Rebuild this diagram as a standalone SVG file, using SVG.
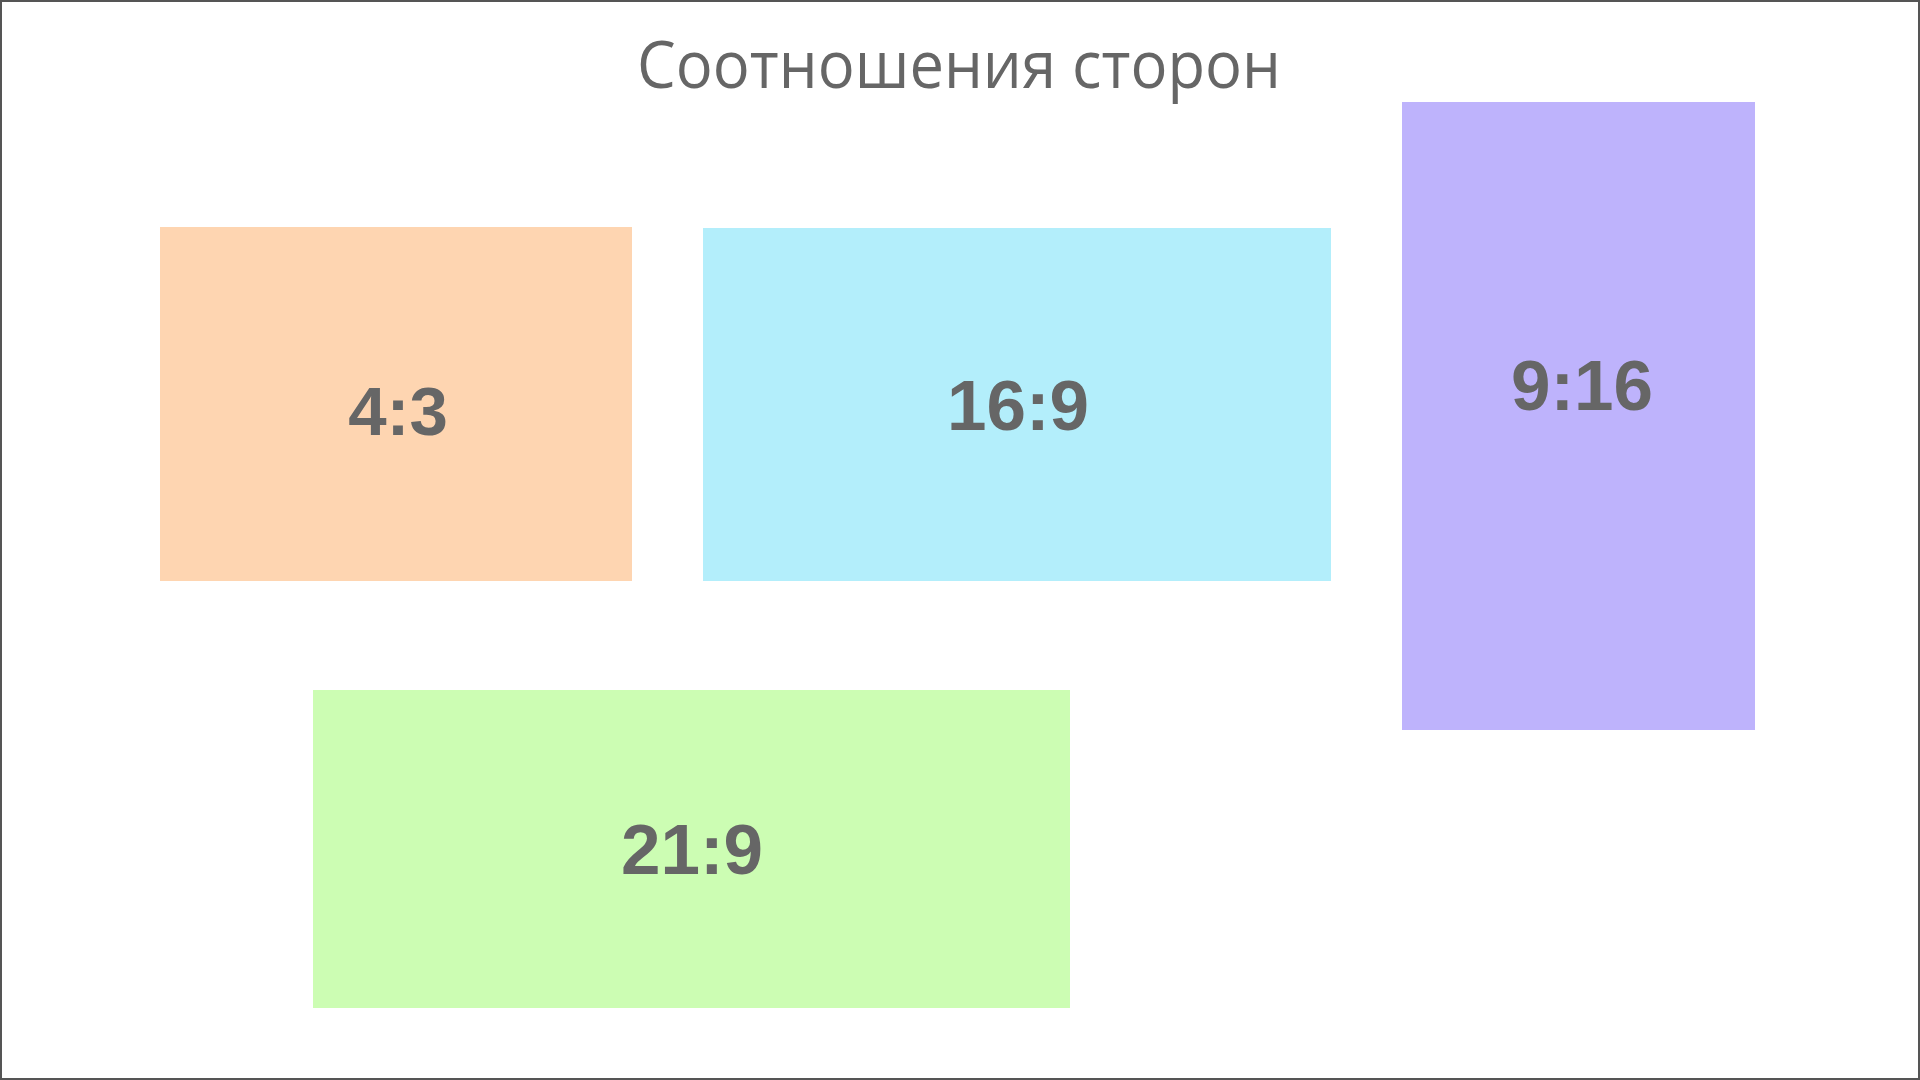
<svg xmlns="http://www.w3.org/2000/svg" width="1920" height="1080" viewBox="0 0 1920 1080">
<style>
.title{font-family:"Open Sans","Noto Sans","DejaVu Sans",sans-serif;font-size:66px;fill:#666666;text-anchor:middle}
.lbl{font-family:"Liberation Sans",Arial,sans-serif;font-weight:bold;font-size:71px;fill:#666666;text-anchor:middle}
</style>
<rect x="0" y="0" width="1920" height="1080" fill="#ffffff"/>
<rect x="1" y="1" width="1918" height="1078" fill="none" stroke="#555555" stroke-width="2"/>
<text class="title" x="959" y="88" textLength="644" lengthAdjust="spacingAndGlyphs">Соотношения сторон</text>
<g id="node-4-3">
<rect x="160" y="227" width="472" height="354" fill="#FED5B1"/>
<text class="lbl" x="398" y="435" style="font-size:69px">4:3</text>
</g>
<g id="node-16-9">
<rect x="703" y="228" width="628" height="353" fill="#B3EEFB"/>
<text class="lbl" x="1018" y="430">16:9</text>
</g>
<g id="node-9-16">
<rect x="1402" y="102" width="353" height="628" fill="#BEB3FC"/>
<text class="lbl" x="1582" y="410">9:16</text>
</g>
<g id="node-21-9">
<rect x="313" y="690" width="757" height="318" fill="#CCFDB3"/>
<text class="lbl" x="692" y="874">21:9</text>
</g>
<g id="connectors"></g>
</svg>
